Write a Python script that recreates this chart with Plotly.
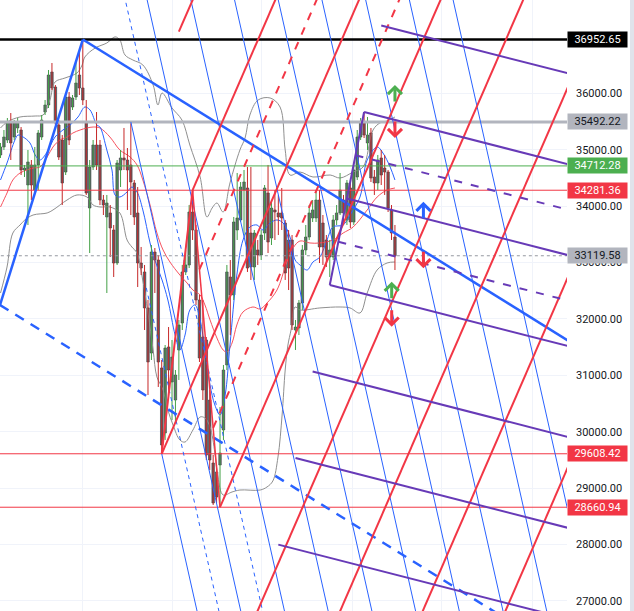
import plotly.graph_objects as go

# ---------------- candles (bar index = position) ----------------
opens = [34906,35048,35172,35473,35225,35385,35349,34640,34374,34729,34285,34729,35225,35668,35792,36377,36112,35438,35172,34604,
         35934,35757,35934,36324,36094,35473,33966,34693,35083,35083,34108,33807,33878,33576,32991,34640,34853,34817,34729,34410,
         33878,32991,32832,32194,31395,33186,33044,31130,29977,31502,30881,30562,31449,31927,32832,32956,33895,33576,32335,31679,
         31626,30562,29445,29286,29410,30030,31183,32743,32424,33576,33754,34285,34321,33523,32920,33222,33133,33523,34232,33434,
         33931,33878,33878,33700,33399,33399,31803,31839,32282,33222,33452,33789,33789,34108,33700,33399,33097,33097,33754,33878,
         34108,33754,34321,33718,34516,35225,35473,35119,35296,34516,34410,34853,34675,34604,33931,33452]
highs = [35119,35349,35562,35650,35526,35562,35402,34729,34995,34817,35048,35349,35615,35881,36413,36537,36147,35526,35260,35970,
         36023,35970,36590,36714,36952.65,35881,34817,35172,35668,35172,34197,34197,34019,33665,34817,34995,35385,35030,35492.22,34463,
         34338,33275,32956,32335,33310,33257,33133,31271,31537,31856,31626,31094,31981,32956,33222,34019,34281.36,33665,32424,32335,
         31679,30739,29587,29410,30438,31183,32956,33044,33807,34587,34427,34640,34693,34693,33576,33399,33576,34374,34729,34108,
         34285,34197,34321,33754,33576,33487,31981,32335,33310,33665,34019,34108,34285,34285,33842,33487,33399,33842,34019,34587,
         34197,34463,34463,34729,35349,35562,35668,35580,35385,34640,34906,34995,34906,34640,34019,33665]
lows = [34853,34995,35119,34817,35172,35296,34551,34516,33665,34108,34250,34285,35172,35615,35739,36058,35438,34817,34019,34551,
        35083,35704,35881,35970,35792,34197,33168,34640,34640,34019,33842,32459,33097,32743,32956,34338,34640,33931,33842,33665,
        32565,32778,31803,30651,31271,32459,30793,29608.42,29853,30686,30207,30154,30917,31803,32778,32902,33399,32247,31236,30562,
        29498,29321,28701,28736,28660.94,29853,31094,31714,32335,33399,33718,33487,32832,32690,32690,32956,33044,33399,33168,33310,
        33399,33487,33576,32690,32512,31803,31449,31714,32158,33133,33399,33718,33718,32991,32956,32920,32743,33044,33665,33842,
        33665,33665,33612,33665,34463,35172,35207,34995,34427,34197,34285,34374,34197,33895,33399,32867]
closes = [35048,35225,35491,35119,35473,35491,34640,34675,34782,34374,34729,35296,35526,35792,36324,36094,35473,34870,34410,35934,
          35172,35917,36182,36094,35881,34232,34693,35083,34729,34108,34019,34055,33612,32991,34764,34853,34817,34640,34427,33807,
          32991,32902,32194,31236,33186,33044,31236,29764,31484,31094,31324,31005,31892,32832,32956,33895,33576,32335,31307,30739,
          29587,29498,28736,28842,29622,31094,32832,32424,33718,33789,34338,34427,32902,32920,33523,33133,33487,34321,33363,33966,
          33895,33807,33789,32814,32902,31892,31856,32282,33222,33452,33878,33931,34108,33275,33275,33097,33222,33754,33878,34285,
          33878,34410,33718,34640,35225,35473,35260,35260,34498,34410,34817,34551,34604,33966,33523,33119.58]
bars = list(range(len(closes)))

# ---------------- indicators ----------------
bb_up_bar = [0,1.9,5.7,10.1,12.4,14.4,15.9,18.8,22.3,23.8,24.6,27.6,31.0,33.4,34.8,36.3,38.6,41.5,44.5,45.9,47.1,50.0,52.9,55.2,
             58.2,60.2,61.7,63.1,64.9,66.9,69.8,71.3,72.7,75.1,78.6,81.5,83.0,84.4,87.3,91.1,96.1,99.0,102.8,105.7,108.6,110.6,112.7,115.0]
bb_up = [35385,35491,35580,35597,35615,35881,36200,36271,36360,36502,36644,36803,36892,37000,36945,36679,36590,36502,36147,35792,36005,
         35739,35526,35083,34516,33807,33966,34055,33895,34410,34995,35207,35615,35881,35917,35757,34995,34551,34604,34516,34551,34498,
         34604,34693,35349,35473,35509,35580]
bb_lo_bar = [0,1.9,3.6,5.7,7.1,9.5,13.6,15.3,19.4,22.3,25.2,27.0,29.0,31.9,34.8,36.9,38.3,39.8,41.3,43.0,44.5,45.6,47.4,48.8,50.3,
             52.3,53.8,56.1,58.2,59.6,61.1,62.5,63.4,64.9,67.5,69.8,75.7,77.7,79.4,80.9,82.1,83.0,83.8,84.7,85.9,87.3,93.1,99.0,101.9,
             104.8,106.9,109.8,112.7,115.0]
bb_lo = [32459,32920,33523,33665,33754,33842,33878,33931,34108,34197,34161,34019,33984,33984,33878,33399,33275,33168,32743,32105,31449,
         30970,30739,30385,30119,29853,29817,30030,30261,30243,30083,29622,29197,28878,28931,28966,28966,29020,29126,29552,30296,31094,
         31537,31803,32211,32158,32194,32211,32194,32105,32459,32867,32991,33009]
fast_ma_bar = [0,1.9,4.2,5.1,6.6,8.6,10.1,11.5,13.6,15.9,18.2,20.3,22.6,24.6,26.1,28.1,29.0,31.0,32.5,33.4,34.8,36.9,38.3,39.8,41.5,
               43.6,45.0,47.1,48.8,50.9,52.3,53.8,55.2,56.7,58.2,59.6,61.1,62.5,64.0,65.5,66.9,68.9,70.7,72.7,74.8,76.5,78.6,80.6,82.4,
               84.4,85.9,87.3,89.4,91.1,93.1,95.2,96.9,99.9,101.9,104.8,106.9,109.8,111.5,113.6,115.0]
fast_ma = [34463,34764,35172,35260,35225,35119,34906,34817,34959,35225,35349,35438,35580,35757,35704,35438,35402,34995,34640,34197,34161,
           34250,34338,34250,33931,33346,33044,32690,32335,31714,31449,31714,32158,32247,31981,31449,30828,30473,30296,30651,31537,32778,
           33399,33629,33665,33576,33700,33754,33700,33452,33044,32956,32867,33009,33097,33399,33629,33665,33842,34161,34817,35048,34941,
           34693,34463]
slow_ma_bar = [0,1.9,3.6,5.7,7.7,9.5,11.5,13.6,15.3,17.3,19.4,21.1,23.2,25.2,27.0,29.0,31.9,34.8,37.8,39.8,41.5,43.6,45.6,47.4,49.4,
               52.3,54.4,56.1,58.2,59.6,61.1,63.1,64.9,66.0,67.5,68.9,70.7,73.6,75.7,77.7,80.6,83.5,85.3,87.3,90.2,93.1,96.9,99.9,102.8,
               106.9,109.8,112.7,115.0]
slow_ma = [33984,34232,34463,34587,34640,34675,34693,34870,35048,35172,35225,35296,35349,35385,35402,35385,35225,34995,34870,34729,34463,
           34019,33523,33222,33009,32778,32636,32512,32424,32247,31981,31661,31449,31413,31572,31892,32123,32211,32176,32282,32512,33009,
           33257,33381,33346,33346,33399,33523,33629,33931,34161,34285,34321]

# ---------------- horizontal price levels ----------------
level_prices = [36952.65, 35492.22, 34712.28, 34281.36, 33119.58, 29608.42, 28660.94]
level_colors = ['#000000', '#b2b5be', '#4caf50', '#f23645', '#9598a1', '#f23645', '#f23645']
level_widths = [2.5, 3, 1, 1, 1, 1, 1]
level_dashes = ['solid', 'solid', 'solid', 'solid', 'dot', 'solid', 'solid']
label_bg = ['#000000', '#b2b5be', '#4caf50', '#f23645', '#b2b5be', '#f23645', '#f23645']
label_fg = ['#ffffff', '#131722', '#ffffff', '#ffffff', '#131722', '#ffffff', '#ffffff']
axis_ticks = [27000, 28000, 29000, 30000, 31000, 32000, 33000, 34000, 35000, 36000]
time_grid = [23.76, 50.0, 76.2, 102.5, 128.7, 155.0]

# ---------------- drawings (anchors in bar/price) ----------------
trend_bars = [-0.15, 24]
trend_prices = [32246, 36952.65]
channel_far = [165.2, 31626]          # point on the falling upper line

pivot_low1 = [47, 29608.42]
pivot_high = [56, 34281.36]
pivot_low2 = [64, 28660.94]
pivot_high2 = [38, 35492.22]
pivot_top = [106, 35668]
pivot_mid = [96, 32600]

red_levels = [-0.5, 0, 0.25, 0.5, 0.75, 1, 1.5, 2, 2.5, 3]
red_dashed = [0.25, 0.75]
red_slope = 139.9          # price per bar
blue_levels = [0, 0.5, 1, 1.5, 2, 3, 4, 5, 6, 7, 8, 9]
blue_dashed = [0.5, 1.5]
blue_slope = -270.6
purple_levels = [-0.5, 0, 0.25, 0.5, 0.75, 1, 1.5, 2, 2.5]
purple_dashed = [0.25, 0.75]
purple_slope = -15.57

arrow_bars = [115.0, 115.0, 123.3, 123.3, 114.05, 114.05]
arrow_prices = [36147, 35207, 34078, 32897, 32660, 31862]
arrow_dirs = ['up', 'down', 'up', 'down', 'up', 'down']
arrow_colors = ['#4caf50', '#f23645', '#2962ff', '#f23645', '#4caf50', '#f23645']

X_RANGE = [-0.146, 165.16]
Y_RANGE = [26821, 37654]

fig = go.Figure()

def seg_trace(xs, ys, color, width, dash='solid', shape='linear'):
    fig.add_trace(go.Scatter(x=xs, y=ys, mode='lines', hoverinfo='skip', showlegend=False,
                             line=dict(color=color, width=width, dash=dash, shape=shape)))

# indicators
seg_trace(bb_up_bar, bb_up, '#8f8f8f', 1, shape='spline')
seg_trace(bb_lo_bar, bb_lo, '#8f8f8f', 1, shape='spline')
seg_trace(slow_ma_bar, slow_ma, '#f7525f', 1, shape='spline')
seg_trace(fast_ma_bar, fast_ma, '#2962ff', 1, shape='spline')

# wicks
gx, gy, rx, ry = [], [], [], []
for b, o, h, l, c in zip(bars, opens, highs, lows, closes):
    if c >= o:
        gx += [b, b, None]; gy += [l, h, None]
    else:
        rx += [b, b, None]; ry += [l, h, None]
seg_trace(gx, gy, '#43a047', 1)
seg_trace(rx, ry, '#c62828', 1)

# bodies
base = [min(o, c) for o, c in zip(opens, closes)]
size = [max(abs(c - o), 18) for o, c in zip(opens, closes)]
fig.add_trace(go.Bar(x=bars, y=size, base=base, width=0.72, hoverinfo='skip', showlegend=False,
                     marker=dict(color='#5f6068', line=dict(color='#34353a', width=0.6))))

# horizontal levels
for p, col, w, d in zip(level_prices, level_colors, level_widths, level_dashes):
    seg_trace([X_RANGE[0] - 5, X_RANGE[1] + 5], [p, p], col, w, d)

# blue trend channel
slopeB = (channel_far[1] - trend_prices[1]) / (channel_far[0] - trend_bars[1])
seg_trace(trend_bars, trend_prices, '#2962ff', 2.5)
seg_trace([trend_bars[1], 180], [trend_prices[1], trend_prices[1] + (180 - trend_bars[1]) * slopeB], '#2962ff', 2.5)
seg_trace([trend_bars[0], 180], [trend_prices[0], trend_prices[0] + (180 - trend_bars[0]) * slopeB], '#2962ff', 2.5, '10px,8px')

# blue fib channel (steep falling lines)
wbx = pivot_high2[0] - pivot_low1[0]
wbp = pivot_high2[1] - pivot_low1[1]
sx, sy, dx_, dy_ = [], [], [], []
for k in blue_levels:
    x0 = pivot_low1[0] + k * wbx
    y0 = pivot_low1[1] + k * wbp
    x1 = x0 + (y0 - 25500) / -blue_slope
    y1 = y0 + (x1 - x0) * blue_slope
    if k in blue_dashed:
        dx_ += [x0, x1, None]; dy_ += [y0, y1, None]
    else:
        sx += [x0, x1, None]; sy += [y0, y1, None]
seg_trace(sx, sy, '#2962ff', 1)
seg_trace(dx_, dy_, '#2962ff', 1, '4px,4px')

# red fib channel (steep rising lines)
wrx = pivot_low2[0] - pivot_high[0]
wrp = pivot_low2[1] - pivot_high[1]
sx, sy, dx_, dy_ = [], [], [], []
for k in red_levels:
    x0 = pivot_high[0] + k * wrx
    y0 = pivot_high[1] + k * wrp
    if k == 0.5:
        x0, y0 = pivot_low1
    x1 = x0 + (38500 - y0) / red_slope
    y1 = y0 + (x1 - x0) * red_slope
    if k in red_dashed:
        dx_ += [x0, x1, None]; dy_ += [y0, y1, None]
    else:
        sx += [x0, x1, None]; sy += [y0, y1, None]
seg_trace(sx, sy, '#f23645', 2)
seg_trace(dx_, dy_, '#f23645', 2, '8px,8px')
seg_trace([pivot_low1[0], pivot_high[0]], [pivot_low1[1], pivot_high[1]], '#f23645', 2)
seg_trace([pivot_high[0], pivot_low2[0]], [pivot_high[1], pivot_low2[1]], '#f23645', 1.5)

# purple fib channel (gently falling lines)
wpx = pivot_mid[0] - pivot_top[0]
wpp = pivot_mid[1] - pivot_top[1]
sx, sy, dx_, dy_ = [], [], [], []
for k in purple_levels:
    x0 = pivot_top[0] + k * wpx
    y0 = pivot_top[1] + k * wpp
    x1 = 175
    y1 = y0 + (x1 - x0) * purple_slope
    if k in purple_dashed:
        dx_ += [x0, x1, None]; dy_ += [y0, y1, None]
    else:
        sx += [x0, x1, None]; sy += [y0, y1, None]
seg_trace(sx, sy, '#673ab7', 2)
seg_trace(dx_, dy_, '#673ab7', 2, '8px,9px')
seg_trace([pivot_top[0], pivot_mid[0]], [pivot_top[1], pivot_mid[1]], '#673ab7', 2)

# arrows
for b, p, d, col in zip(arrow_bars, arrow_prices, arrow_dirs, arrow_colors):
    fig.add_annotation(x=b, y=p, xref='x', yref='y', text='', showarrow=True,
                       ax=0, ay=18 if d == 'up' else -18, arrowhead=4, arrowsize=0.9,
                       arrowwidth=3, arrowcolor=col)

# price labels
for p, bg, fg in zip(level_prices, label_bg, label_fg):
    fig.add_annotation(x=1, xref='paper', xanchor='left', y=p, yref='y', yanchor='middle',
                       text=f'{p:.2f}', showarrow=False, bgcolor=bg, borderpad=2, width=55, height=11,
                       font=dict(family='Roboto, Arial, sans-serif', size=11, color=fg), align='center')

fig.add_shape(type='rect', xref='paper', yref='paper', x0=630 / 567, x1=640 / 567, y0=0, y1=1,
              fillcolor='#e0e3eb', line=dict(width=0), layer='above')

fig.update_layout(
    width=634, height=611, margin=dict(l=0, r=67, t=0, b=0),
    paper_bgcolor='white', plot_bgcolor='white', barmode='overlay', showlegend=False,
    xaxis=dict(range=X_RANGE, showticklabels=False, tickvals=time_grid, showgrid=True,
               gridcolor='#f0f3fa', zeroline=False, showline=False, fixedrange=True),
    yaxis=dict(range=Y_RANGE, side='right', tickvals=axis_ticks,
               ticktext=[f'{t:.2f}' for t in axis_ticks], showgrid=True, gridcolor='#f0f3fa',
               zeroline=False, showline=False, ticks='', ticklabelstandoff=8,
               tickfont=dict(family='Roboto, Arial, sans-serif', size=11, color='#131722')),
)
fig.write_html('out.html', config={'displayModeBar': False},
               post_script="document.body.style.margin='0';document.body.style.overflow='hidden';")
